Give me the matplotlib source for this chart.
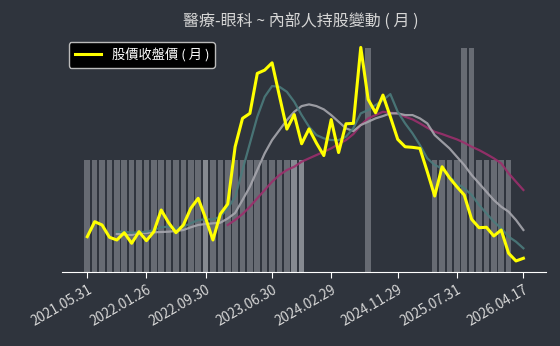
"""醫療-眼科 ~ 內部人持股變動（月）: monthly close with moving averages and insider bars."""

import matplotlib
matplotlib.use("Agg")
import matplotlib.pyplot as plt
import numpy as np

plt.rcParams["font.family"] = ["Noto Sans CJK TC", "DejaVu Sans"]

BG = "#2f343d"
TXT = "#d6d6d6"

TITLE = "醫療-眼科 ~ 內部人持股變動 ( 月 )"
LEGEND_LABEL = "股價收盤價 ( 月 )"

# tick labels sit at these month indices
TICK_IDX = [0, 8, 16, 25, 33, 42, 50, 59]
TICK_LABELS = ["2021.05.31", "2022.01.26", "2022.09.30", "2023.06.30",
               "2024.02.29", "2024.11.29", "2025.07.31", "2026.04.17"]

# monthly close, 60 months
close = [35.3, 50.3, 47.0, 34.7, 32.0, 39.3, 28.7, 40.3, 31.3, 40.3,
         62.0, 49.3, 39.3, 47.0, 63.7, 73.7, 54.0, 32.0, 58.0, 68.0,
         125.3, 153.7, 158.7, 198.7, 202.0, 209.3, 176.0, 143.0, 157.5, 128.3,
         143.2, 129.0, 116.5, 152.5, 119.5, 148.3, 148.7, 224.7, 172.7, 159.3,
         177.0, 155.3, 132.7, 125.3, 124.7, 123.7, 100.3, 76.0, 105.3, 94.3,
         85.3, 77.0, 52.7, 44.3, 44.7, 36.0, 42.0, 18.7, 11.0, 13.7]

# short average, from month 4
ma_short_start = 4
ma_short = [40.3, 40.3, 39.3, 39.7, 40.3, 42.0, 44.7, 45.3, 43.7, 45.3,
            48.7, 52.0, 52.7, 52.7, 55.3, 63.7, 75.0, 102.0, 128.7, 155.3,
            175.3, 186.0, 185.3, 180.3, 170.3, 157.0, 145.3, 137.0, 133.7, 132.0,
            132.0, 135.3, 144.0, 158.7, 162.0, 167.0, 172.0, 178.0, 160.3, 148.7,
            138.7, 127.0, 113.7, 107.0, 103.7, 95.3, 88.7, 83.7, 77.0, 67.0,
            58.7, 50.3, 43.7, 35.3, 30.3, 23.7]

# medium average, from month 4
ma_mid_start = 4
ma_mid = [38.0, 37.5, 37.0, 38.7, 39.0, 39.7, 40.0, 40.3, 41.0, 42.0,
          44.7, 47.0, 48.0, 48.7, 49.3, 53.5, 59.0, 72.0, 85.3, 102.0,
          118.7, 132.0, 142.0, 152.0, 160.3, 166.0, 167.7, 166.0, 162.7, 157.0,
          150.3, 143.7, 141.0, 147.0, 150.3, 153.7, 156.0, 158.7, 158.7, 157.0,
          157.0, 153.7, 148.7, 137.0, 130.3, 123.7, 115.3, 107.0, 97.0, 88.7,
          80.3, 72.0, 65.3, 60.3, 52.0, 42.0]

# long average, from month 19
ma_long_start = 19
ma_long = [47.0, 52.0, 58.0, 65.3, 73.7, 82.0, 90.3, 97.0, 102.0, 105.3,
           110.3, 113.7, 117.0, 120.3, 123.7, 128.0, 132.0, 138.0, 147.0, 153.7,
           157.0, 160.3, 159.3, 158.7, 155.3, 152.7, 148.7, 144.3, 140.3, 138.0,
           135.3, 132.7, 129.3, 125.3, 122.0, 118.0, 113.7, 108.7, 98.7, 90.3,
           82.0]

# insider holding change bars (0 = none)
insider = [1] * 30 + [0] * 8 + [2] + [0] * 8 + [1, 1, 1, 1, 2, 2, 1, 1, 1, 1, 1] + [0, 0]
insider_light = [16, 28, 29]


def build_fig(out_path="out.png"):
    fig = plt.figure(figsize=(5.6, 3.46), dpi=100, facecolor=BG)
    ax_bar = fig.add_axes([0.111, 0.214, 0.864, 0.670])
    ax = ax_bar.twinx()

    n = len(close)
    x = np.arange(n)

    # bars
    bar_cols = ["#8c9096" if i in insider_light else "#6b6f77" for i in range(n)]
    ax_bar.bar(x, insider, width=0.76, color=bar_cols, alpha=0.95, zorder=1)
    ax_bar.set_ylim(0, 2.07)
    ax_bar.set_facecolor(BG)

    # moving averages and close
    ax.plot(np.arange(ma_long_start, ma_long_start + len(ma_long)), ma_long,
            color="#9c2f6c", lw=1.6, alpha=0.9)
    ax.plot(np.arange(ma_mid_start, ma_mid_start + len(ma_mid)), ma_mid,
            color="#a7a7ae", lw=1.6, alpha=0.9)
    ax.plot(np.arange(ma_short_start, ma_short_start + len(ma_short)), ma_short,
            color="#4b7b7c", lw=1.6, alpha=0.9)
    ax.plot(x, close, color="#ffff00", lw=2.2, label=LEGEND_LABEL)
    ax.set_ylim(0, 232)

    ax_bar.set_xlim(-3.4, 62.06)
    for a in (ax_bar, ax):
        a.set_yticks([])
        for s in ("left", "right", "top"):
            a.spines[s].set_visible(False)
    ax_bar.spines["bottom"].set_color("white")
    ax.spines["bottom"].set_visible(False)

    ax_bar.set_xticks(TICK_IDX)
    ax_bar.set_xticklabels(TICK_LABELS, rotation=30, ha="right",
                           rotation_mode="anchor", fontsize=9.8, color=TXT)
    ax_bar.tick_params(axis="x", colors="white", length=4, labelcolor=TXT)

    leg = ax.legend(loc="upper left", bbox_to_anchor=(0.0, 1.02), frameon=True,
                    facecolor="black", edgecolor="#bbbbbb", fontsize=9.5,
                    handlelength=2.0, borderpad=0.45, framealpha=1.0)
    for t in leg.get_texts():
        t.set_color("white")

    fig.text(0.537, 0.935, TITLE, ha="center", va="center", fontsize=11.5, color=TXT)

    fig.savefig(out_path, facecolor=BG)
    plt.close(fig)


if __name__ == "__main__":
    build_fig()
